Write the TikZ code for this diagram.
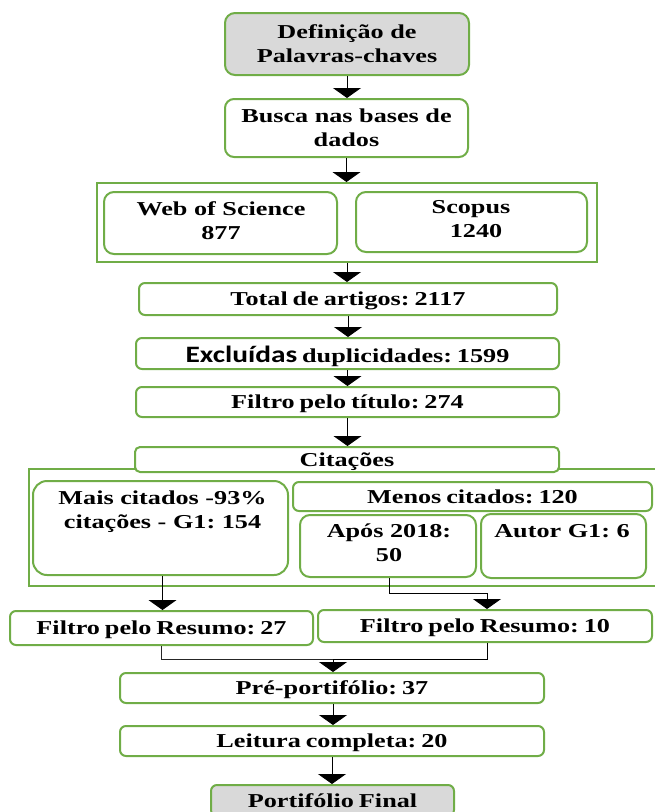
\documentclass[tikz,border=0pt]{standalone}
\usepackage{fontspec}
\setmainfont{Liberation Serif}[FakeStretch=1.33,WordSpace=0.75]
\newfontfamily\sansx{Carlito}[FakeStretch=1.25]
\usetikzlibrary{arrows.meta}
\definecolor{grn}{HTML}{70AD47}
\definecolor{gry}{HTML}{D9D9D9}
\frenchspacing
\tikzset{
  fnt/.style={font=\frenchspacing\bfseries\fontsize{19.7}{24}\selectfont},
  box/.style={draw=grn, line width=2pt, fill=white, rounded corners=6pt, inner sep=0pt,
    text height=13pt, text depth=0pt, fnt},
  frame/.style={draw=grn, line width=2pt},
  txt/.style={inner sep=0pt, align=center, text width=#1, fnt},
  arr/.style={draw=black, line width=0.9pt, -{Triangle[width=28pt,length=10pt]}},
  con/.style={draw=black!85, line width=0.9pt},
}
\begin{document}
\begin{tikzpicture}[x=1pt,y=-1pt]
\useasboundingbox (0,0) rectangle (654,812);
% outer frames
\node[frame, minimum width=500pt, minimum height=79pt, inner sep=0pt] (outer1) at (347,222.5) {};
\node[frame, minimum width=631pt, minimum height=117pt, inner sep=0pt] (outer2) at (344.5,527.5) {};
% boxes
\node[box, minimum width=244pt, minimum height=62pt, fill=gry, rounded corners=10pt] (def) at (347,44) {};
\node[txt=240pt, anchor=base] (def-t) at (347,38) {Definição de\\Palavras-chaves};
\node[box, minimum width=243pt, minimum height=58pt, rounded corners=9pt] (busca) at (346.5,128) {};
\node[txt=240pt, anchor=base] (busca-t) at (346.5,122) {Busca nas bases de\\dados};
\node[box, minimum width=233pt, minimum height=62pt, rounded corners=10pt] (wos) at (220.5,223) {};
\node[txt=230pt, anchor=base] (wos-t) at (221,215) {Web of Science\\877};
\node[box, minimum width=231pt, minimum height=60pt, rounded corners=10pt] (scopus) at (471.5,222) {};
\node[txt=230pt, anchor=base] (scopus-t) at (471,213) {Scopus\\\hspace*{10pt}1240};
\node[box, minimum width=418pt, minimum height=32pt] (total) at (348,299) {Total de artigos: 2117};
\node[box, minimum width=423pt, minimum height=31pt, text height=17pt] (excl) at (347.5,353.5) {{\sansx\fontsize{23.5}{24}\selectfont Excluídas} duplicidades: 1599};
\node[box, minimum width=423pt, minimum height=30pt] (titulo) at (347.5,402) {Filtro pelo título: 274};
\node[box, minimum width=424pt, minimum height=25pt, rounded corners=5pt] (cit) at (347,459.5) {Citações};
\node[box, minimum width=255pt, minimum height=94pt, rounded corners=14pt] (mais) at (160.5,528) {};
\node[txt=250pt, anchor=base] (mais-t) at (162.5,504) {Mais citados -93\%\\citações - G1: 154};
\node[box, minimum width=359pt, minimum height=29pt] (menos) at (472.5,496.5) {Menos citados: 120};
\node[box, minimum width=176pt, minimum height=62pt, rounded corners=10pt] (apos) at (388,546) {};
\node[txt=170pt, anchor=base] (apos-t) at (389,537) {Após 2018:\\50};
\node[box, minimum width=165pt, minimum height=64pt, rounded corners=10pt] (autor) at (563.5,546) {};
\node[txt=160pt, anchor=base] (autor-t) at (562,537) {Autor G1: 6};
\node[box, minimum width=303pt, minimum height=34pt] (f27) at (161.5,628) {Filtro pelo Resumo: 27};
\node[box, minimum width=334pt, minimum height=32pt] (f10) at (485,626) {Filtro pelo Resumo: 10};
\node[box, minimum width=424pt, minimum height=30pt] (pre) at (332,688) {Pré-portifólio: 37};
\node[box, minimum width=424pt, minimum height=30pt] (leit) at (332,741) {Leitura completa: 20};
\node[box, minimum width=243pt, minimum height=31pt, fill=gry] (port) at (332.5,800.5) {Portifólio Final};
% connectors
\coordinate (e1) at (0,593);
\coordinate (j) at (333,659);
\draw[arr] (def.south) -- (def.south |- busca.north);
\draw[arr] (busca.south) -- (busca.south |- outer1.north);
\draw[arr] (outer1.south) -- (outer1.south |- total.north);
\draw[arr] (total.south) -- (total.south |- excl.north);
\draw[arr] (excl.south) -- (excl.south |- titulo.north);
\draw[arr] (titulo.south) -- (titulo.south |- cit.north);
\draw[arr] ([xshift=2pt]mais.south) -- ([xshift=2pt]mais.south |- f27.north);
\draw[arr] ([xshift=1pt]apos.south) -- ([xshift=1pt]apos.south |- e1) -| ([xshift=2pt]f10.north);
\draw[con] (f27.south) |- (j);
\draw[arr] ([xshift=2pt]f10.south) |- (j) -- (j |- pre.north);
\draw[arr] ([xshift=1pt]pre.south) -- ([xshift=1pt]pre.south |- leit.north);
\draw[arr] (leit.south) -- (leit.south |- port.north);
\end{tikzpicture}
\end{document}
